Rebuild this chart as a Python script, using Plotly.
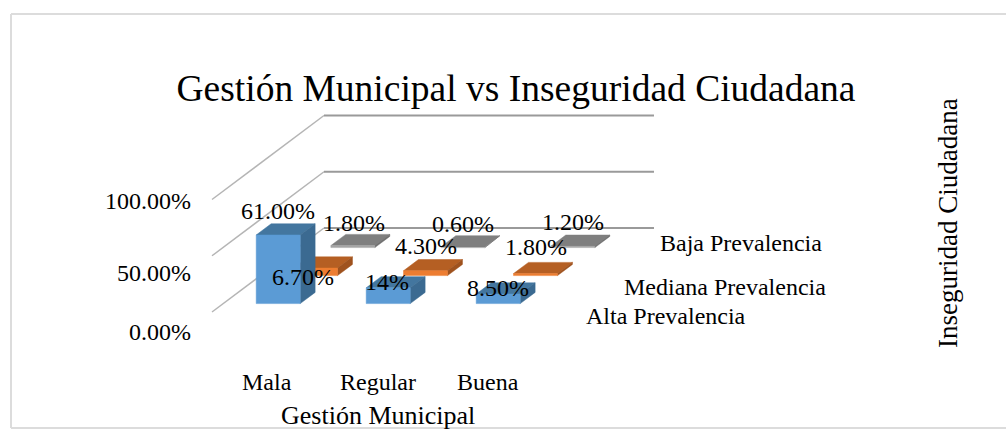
import plotly.graph_objects as go

# ---- data -------------------------------------------------------------
categories = ["Mala", "Regular", "Buena"]
series_names = ["Alta Prevalencia", "Mediana Prevalencia", "Baja Prevalencia"]
alta = [0.61, 0.14, 0.085]
mediana = [0.067, 0.043, 0.018]
baja = [0.018, 0.006, 0.012]
alta_labels = ["61.00%", "14%", "8.50%"]
mediana_labels = ["6.70%", "4.30%", "1.80%"]
baja_labels = ["1.80%", "0.60%", "1.20%"]
y_ticks = [0, 0.5, 1]
y_tick_labels = ["0.00%", "50.00%", "100.00%"]
title = "Gestión Municipal vs Inseguridad Ciudadana"
x_title = "Gestión Municipal"
z_title = "Inseguridad Ciudadana"

# ---- layout constants ---------------------------------------------------
W, H = 1006, 432
FONT = "Liberation Serif"
PX_PER_CAT = 110.0
PX_PER_VAL = 112.5
ORIGIN = (212.0, 312.0)      # pixel of the front-left floor corner
SHEAR_X = 37.33 / PX_PER_CAT  # category units per series of depth
SHEAR_Y = 28.0 / PX_PER_VAL   # value units per series of depth
GAP = 0.3                     # side gap within a category
DEPTH_GAP = 0.3               # gap within a series slot of depth

def proj(cat, depth, val):
    return cat + depth * SHEAR_X, val + depth * SHEAR_Y

def poly(points):
    xs, ys = zip(*[proj(*p) for p in points])
    return list(xs) + [xs[0], None], list(ys) + [ys[0], None]

fig = go.Figure()

def add_line(xs, ys, color, width):
    fig.add_trace(go.Scatter(x=xs, y=ys, mode="lines", hoverinfo="skip",
                             line=dict(color=color, width=width)))

# ---- grid walls ---------------------------------------------------------
n = len(categories)
for t in y_ticks:
    a, b = proj(0, 0, t), proj(0, 3, t)
    c = proj(n, 3, t)
    add_line([a[0], b[0]], [a[1], b[1]], "#b5b5b5", 1.5)
    add_line([b[0], c[0]], [b[1], c[1]], "#9a9a9a", 1.8)

# ---- bars ---------------------------------------------------------------
palette = [
    ("#5b9bd5", "#43769f", "#3b6a91"),
    ("#ed7d31", "#b55f23", "#9f521e"),
    ("#a5a5a5", "#7f7f7f", "#6f6f6f"),
]
rows = [alta, mediana, baja]
for s in [2, 1, 0]:
    values = rows[s]
    front, top, side = palette[s]
    faces = {"top": [[], []], "side": [[], []], "front": [[], []]}
    for i, v in enumerate(values):
        x0, x1 = i + GAP, i + 1 - GAP
        d0, d1 = s + DEPTH_GAP, s + 1 - DEPTH_GAP
        for key, pts in (
            ("top", [(x0, d0, v), (x1, d0, v), (x1, d1, v), (x0, d1, v)]),
            ("side", [(x1, d0, 0), (x1, d1, 0), (x1, d1, v), (x1, d0, v)]),
            ("front", [(x0, d0, 0), (x1, d0, 0), (x1, d0, v), (x0, d0, v)]),
        ):
            px, py = poly(pts)
            faces[key][0] += px
            faces[key][1] += py
    for key, col in (("top", top), ("side", side), ("front", front)):
        fig.add_trace(go.Scatter(x=faces[key][0], y=faces[key][1], mode="lines",
                                 fill="toself", fillcolor=col, hoverinfo="skip",
                                 line=dict(color=col, width=0.5)))

annotations = []

def text_px(x, y, txt, size=24, xanchor="center", angle=0):
    annotations.append(dict(xref="paper", yref="paper", x=x / W, y=1 - y / H,
                            text=txt, showarrow=False, xanchor=xanchor, yanchor="middle",
                            textangle=angle, font=dict(family=FONT, size=size, color="#000000")))

# ---- data labels, anchored on the bar tops ---------------------------------
label_rows = [alta_labels, mediana_labels, baja_labels]
label_shift = [
    [(0, 24), (-1, 6), (0, 6)],
    [(-13, -9), (0, 25), (0, 27)],
    [(1, 23), (0, 23), (0, 24)],
]
for s, labels in enumerate(label_rows):
    for i, txt in enumerate(labels):
        px, py = proj(i + 0.5, s + DEPTH_GAP, rows[s][i])
        dx, dy = label_shift[s][i]
        annotations.append(dict(xref="x", yref="y", x=px, y=py, xshift=dx, yshift=dy,
                                text=txt, showarrow=False, xanchor="center", yanchor="middle",
                                font=dict(family=FONT, size=24, color="#000000")))

# ---- axis texts ----------------------------------------------------------
for lab, y in zip(y_tick_labels, [332, 273, 201]):
    text_px(193, y, lab, xanchor="right")
for lab, x in zip(categories, [267, 378, 488]):
    text_px(x, 382, lab)
for lab, x, y in zip(series_names, [748, 828, 824], [316, 287, 243]):
    text_px(x, y, lab, xanchor="right")
text_px(378, 415.5, x_title, size=26)
text_px(948, 223, z_title, size=27, angle=-90)

# ---- frame ---------------------------------------------------------------
frame = dict(type="line", xref="paper", yref="paper",
             line=dict(color="#dcdcdc", width=2))
shapes = [
    dict(frame, x0=11 / W, x1=1, y0=1 - 14 / H, y1=1 - 14 / H),
    dict(frame, x0=11 / W, x1=11 / W, y0=1 - 14 / H, y1=1 - 428 / H),
    dict(frame, x0=11 / W, x1=1, y0=1 - 428 / H, y1=1 - 428 / H),
]

fig.update_layout(
    width=W, height=H, autosize=False, showlegend=False,
    margin=dict(l=0, r=0, t=0, b=0),
    paper_bgcolor="#ffffff", plot_bgcolor="#ffffff",
    title=dict(text=title, x=516 / W, xanchor="center", y=1 - 88 / H, yanchor="middle",
               font=dict(family=FONT, size=37.5, color="#000000")),
    xaxis=dict(visible=False, fixedrange=True,
               range=[-ORIGIN[0] / PX_PER_CAT, (W - ORIGIN[0]) / PX_PER_CAT]),
    yaxis=dict(visible=False, fixedrange=True,
               range=[(ORIGIN[1] - H) / PX_PER_VAL, ORIGIN[1] / PX_PER_VAL]),
    annotations=annotations, shapes=shapes,
)
fig.write_html("out.html", config={"displayModeBar": False},
               post_script="document.documentElement.style.overflow='hidden';"
                           "document.body.style.margin='0';")
